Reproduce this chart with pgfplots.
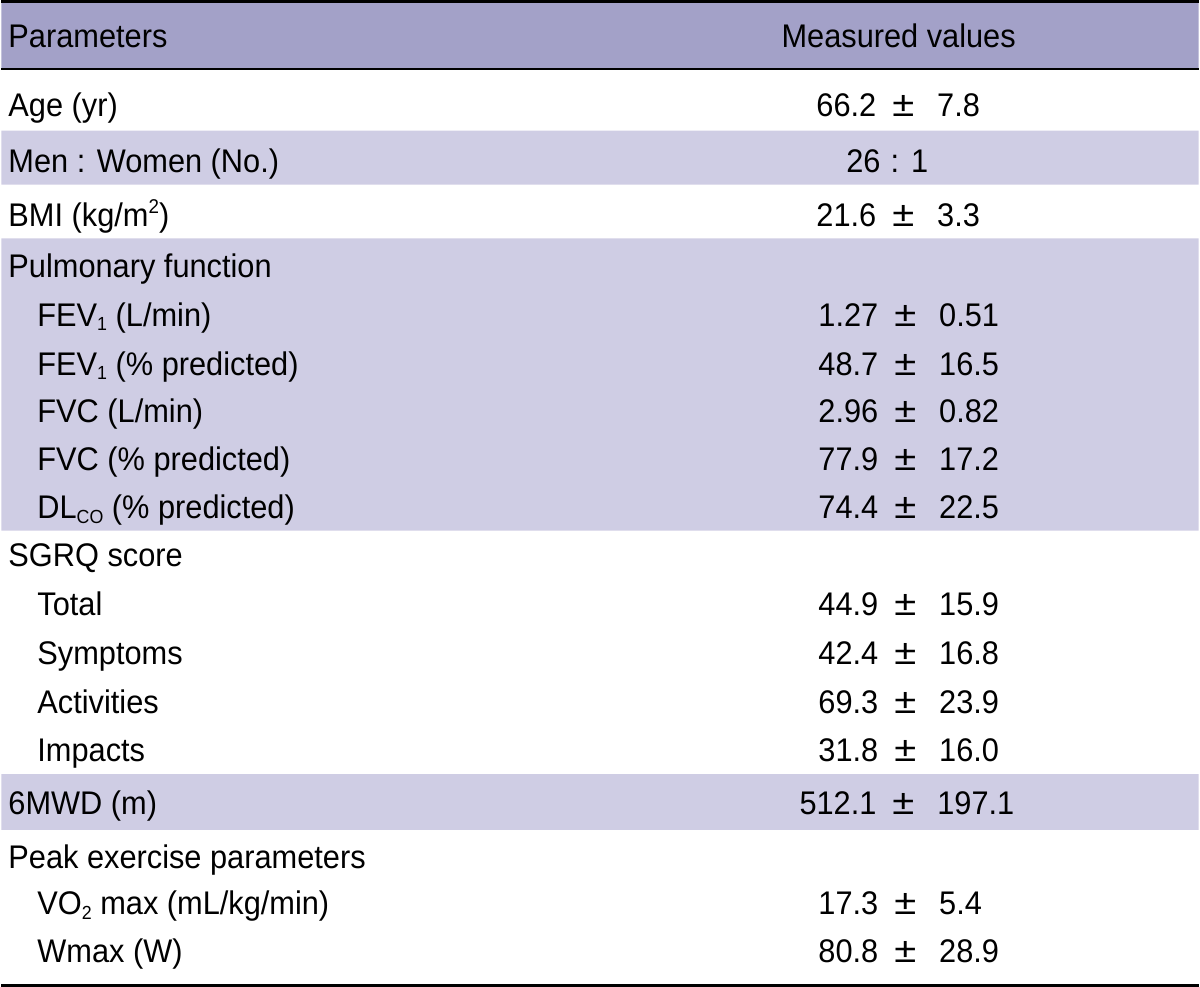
\documentclass[border=0pt]{standalone}
\usepackage{graphicx}
\usepackage{pgfplots}
\pgfplotsset{compat=1.18}
\usepackage{fontspec}
\setmainfont[FakeStretch=0.94]{Liberation Sans}
\definecolor{hdr}{RGB}{163,161,200}
\definecolor{lav}{RGB}{207,205,228}
\newcommand\PM{\hspace{8pt}\scalebox{1.3}[1.08]{±}\hspace{11.5pt}}
\newcommand\sub[1]{\raisebox{-2.4pt}{\fontsize{9.5}{10}\selectfont #1}}
\tikzset{t/.style={anchor=base west, inner sep=0pt, outer sep=0pt, text=black, font=\fontsize{16.4}{18}\selectfont}}
\begin{document}
\begin{tikzpicture}
\begin{axis}[
  scale only axis, width=600pt, height=494.5pt,
  xmin=0, xmax=1200, ymin=0, ymax=989, y dir=reverse,
  hide axis, clip=false,
]
% row backgrounds
\addplot[fill=hdr, draw=none] coordinates {(0,3) (1200,3) (1200,68) (0,68) (0,3)};
\addplot[fill=lav, draw=none] coordinates {(0,131) (1200,131) (1200,185) (0,185) (0,131)};
\addplot[fill=lav, draw=none] coordinates {(0,239) (1200,239) (1200,532) (0,532) (0,239)};
\addplot[fill=lav, draw=none] coordinates {(0,776) (1200,776) (1200,832) (0,832) (0,776)};
% rules
\addplot[black, line width=1.5pt] coordinates {(0,1.5) (1200,1.5)};
\addplot[black, line width=1.3pt] coordinates {(0,69) (1200,69)};
\addplot[black, line width=1.5pt] coordinates {(0,987.5) (1200,987.5)};
% header
\node[t] at (axis cs:7,48) {Parameters};
\node[t] at (axis cs:782,48) {Measured values};
% left column
\node[t] at (axis cs:7,117) {Age (yr)};
\node[t] at (axis cs:7,173) {Men : Women (No.)};
\node[t] at (axis cs:7,227) {BMI (kg/m\raisebox{6.5pt}{\fontsize{10}{10}\selectfont 2})};
\node[t] at (axis cs:7,278) {Pulmonary function};
\node[t] at (axis cs:36,327) {FEV\sub{1} (L/min)};
\node[t] at (axis cs:36,376) {FEV\sub{1} (\% predicted)};
\node[t] at (axis cs:36,424) {FVC (L/min)};
\node[t] at (axis cs:36,472) {FVC (\% predicted)};
\node[t] at (axis cs:36,520) {DL\sub{CO} (\% predicted)};
\node[t] at (axis cs:7,568) {SGRQ score};
\node[t] at (axis cs:36,617) {Total};
\node[t] at (axis cs:36,666) {Symptoms};
\node[t] at (axis cs:36,715) {Activities};
\node[t] at (axis cs:36,763) {Impacts};
\node[t] at (axis cs:7,817) {6MWD (m)};
\node[t] at (axis cs:7,871) {Peak exercise parameters};
\node[t] at (axis cs:36,917) {VO\sub{2} max (mL/kg/min)};
\node[t] at (axis cs:36,965) {Wmax (W)};
% right column
\node[t] at (axis cs:817,117) {66.2\PM 7.8};
\node[t] at (axis cs:847,173) {26\hspace{5pt}:\hspace{6pt}1};
\node[t] at (axis cs:817,227) {21.6\PM 3.3};
\node[t] at (axis cs:819,327) {1.27\PM 0.51};
\node[t] at (axis cs:819,376) {48.7\PM 16.5};
\node[t] at (axis cs:819,424) {2.96\PM 0.82};
\node[t] at (axis cs:819,472) {77.9\PM 17.2};
\node[t] at (axis cs:819,520) {74.4\PM 22.5};
\node[t] at (axis cs:819,617) {44.9\PM 15.9};
\node[t] at (axis cs:819,666) {42.4\PM 16.8};
\node[t] at (axis cs:819,715) {69.3\PM 23.9};
\node[t] at (axis cs:819,763) {31.8\PM 16.0};
\node[t] at (axis cs:800,817) {512.1\PM 197.1};
\node[t] at (axis cs:819,917) {17.3\PM 5.4};
\node[t] at (axis cs:819,965) {80.8\PM 28.9};
\end{axis}
\end{tikzpicture}
\end{document}
